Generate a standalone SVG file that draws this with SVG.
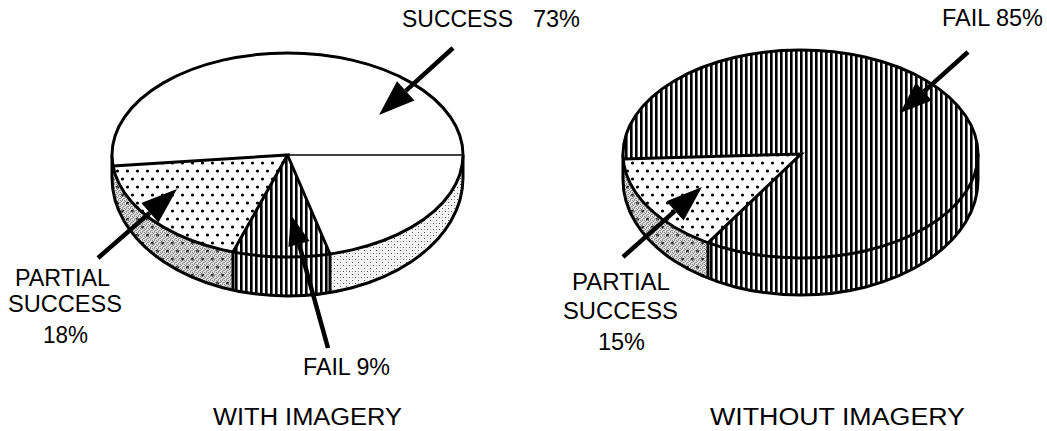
<svg xmlns="http://www.w3.org/2000/svg" width="1047" height="431" viewBox="0 0 1047 431">
<style>
  text { font-family: "Liberation Sans", Arial, sans-serif; font-size: 23px; fill: #000; }
  .edge { fill: none; stroke: #000; stroke-width: 3; }
  .thin { fill: none; stroke: #000; stroke-width: 1.6; }
  .arrow line { stroke: #000; stroke-width: 4.5; }
  .arrow polygon { fill: #000; }
</style>
<defs>
  <pattern id="dots" width="10" height="16" patternUnits="userSpaceOnUse">
    <rect width="10" height="16" fill="#fff"/>
    <circle cx="2.5" cy="3" r="1.6" fill="#000"/>
    <circle cx="7.5" cy="11" r="1.6" fill="#000"/>
  </pattern>
  <pattern id="vhatch" width="5" height="10" patternUnits="userSpaceOnUse">
    <rect width="5" height="10" fill="#fff"/>
    <rect x="0" y="0" width="2.6" height="10" fill="#000"/>
  </pattern>
  <pattern id="dense" width="4" height="4" patternUnits="userSpaceOnUse">
    <rect width="4" height="4" fill="#c4c4c4"/>
    <rect x="0" y="0" width="1" height="1" fill="#000"/>
    <rect x="2" y="0" width="1" height="1" fill="#333"/>
    <rect x="1" y="1" width="1" height="1" fill="#000"/>
    <rect x="3" y="2" width="1" height="1" fill="#000"/>
    <rect x="0" y="2" width="1" height="1" fill="#333"/>
    <rect x="2" y="3" width="1" height="1" fill="#000"/>
  </pattern>
  <pattern id="light" width="6" height="6" patternUnits="userSpaceOnUse">
    <rect width="6" height="6" fill="#f4f4f4"/>
    <rect x="1" y="1" width="1" height="1" fill="#555"/>
    <rect x="4" y="4" width="1" height="1" fill="#555"/>
    <rect x="4" y="1" width="1" height="1" fill="#aaa"/>
  </pattern>
  <clipPath id="cL1"><rect x="100" y="140" width="133" height="170"/></clipPath>
  <clipPath id="cL2"><rect x="233" y="140" width="97" height="170"/></clipPath>
  <clipPath id="cL3"><rect x="330" y="140" width="140" height="170"/></clipPath>
  <clipPath id="cR1"><rect x="610" y="140" width="98" height="170"/></clipPath>
  <clipPath id="cR2"><rect x="708" y="140" width="280" height="170"/></clipPath>
</defs>

<g id="pie-with-imagery">
  <g>
    <path clip-path="url(#cL1)" fill="url(#dense)" d="M112,155 A175.5 102 0 0 0 463,155 L463,178 A175.5 118 0 0 1 112,178 Z"/>
    <path clip-path="url(#cL1)" fill="url(#dots)" opacity="0.5" d="M112,155 A175.5 102 0 0 0 463,155 L463,178 A175.5 118 0 0 1 112,178 Z"/>
    <path clip-path="url(#cL2)" fill="url(#vhatch)" d="M112,155 A175.5 102 0 0 0 463,155 L463,178 A175.5 118 0 0 1 112,178 Z"/>
    <path clip-path="url(#cL3)" fill="url(#light)" d="M112,155 A175.5 102 0 0 0 463,155 L463,178 A175.5 118 0 0 1 112,178 Z"/>
  </g>
  <path class="edge" d="M112,155 L112,178 A175.5 118 0 0 0 463,178 L463,155"/>
  <line class="edge" x1="233" y1="252" x2="233" y2="290.2"/>
  <line class="edge" x1="330" y1="254" x2="330" y2="292.5"/>
  <ellipse cx="287.5" cy="155" rx="175.5" ry="102" fill="#fff"/>
  <path fill="url(#dots)" d="M287.5,155 L113,166 A175.5 102 0 0 0 233,252 Z"/>
  <path fill="url(#vhatch)" d="M287.5,155 L233,252 A175.5 102 0 0 0 330,254 Z"/>
  <path class="edge" d="M113,166 L287.5,155 L233,252 M287.5,155 L330,254"/>
  <line class="thin" x1="287.5" y1="155" x2="463" y2="155"/>
  <ellipse class="edge" cx="287.5" cy="155" rx="175.5" ry="102"/>
</g>

<g id="pie-without-imagery">
  <g>
    <path clip-path="url(#cR1)" fill="url(#dense)" d="M623,154 A177.5 104 0 0 0 978,154 L978,180 A177.5 115 0 0 1 623,180 Z"/>
    <path clip-path="url(#cR1)" fill="url(#dots)" opacity="0.5" d="M623,154 A177.5 104 0 0 0 978,154 L978,180 A177.5 115 0 0 1 623,180 Z"/>
    <path clip-path="url(#cR2)" fill="url(#vhatch)" d="M623,154 A177.5 104 0 0 0 978,154 L978,180 A177.5 115 0 0 1 623,180 Z"/>
  </g>
  <path class="edge" d="M623,154 L623,180 A177.5 115 0 0 0 978,180 L978,154"/>
  <line class="edge" x1="708" y1="242.8" x2="708" y2="278.2"/>
  <ellipse cx="800.5" cy="154" rx="177.5" ry="104" fill="url(#vhatch)"/>
  <path fill="url(#dots)" d="M801,154 L623.2,159 A177.5 104 0 0 0 708,242.8 Z"/>
  <path class="edge" d="M623.2,159 L801,154 L708,242.8"/>
  <ellipse class="edge" cx="800.5" cy="154" rx="177.5" ry="104"/>
</g>

<g id="connectors" class="arrow">
  <g id="arrow-success-73">
    <line x1="453" y1="48" x2="405.7" y2="90.8"/>
    <polygon points="379,115 414.4,100.4 397,81.2"/>
  </g>
  <g id="arrow-partial-18">
    <line x1="98" y1="258" x2="149.9" y2="212.7"/>
    <polygon points="177,189 158.5,222.5 141.3,202.9"/>
  </g>
  <g id="arrow-fail-9">
    <line x1="328" y1="348" x2="299" y2="244"/>
    <polygon points="291,215 309.6,241.1 288.4,246.9"/>
  </g>
  <g id="arrow-fail-85">
    <line x1="968" y1="52" x2="923.8" y2="91.7"/>
    <polygon points="900,113 931.8,100.6 915.8,82.8"/>
  </g>
  <g id="arrow-partial-15">
    <line x1="623" y1="257" x2="675" y2="210.9"/>
    <polygon points="702,187 683.6,220.6 666.4,201.2"/>
  </g>
</g>

<g id="label-success-73">
  <text y="27"><tspan x="402" textLength="111" lengthAdjust="spacingAndGlyphs">SUCCESS</tspan><tspan x="533" textLength="47" lengthAdjust="spacingAndGlyphs">73%</tspan></text>
</g>
<g id="label-partial-18">
  <text x="15" y="286" textLength="95" lengthAdjust="spacingAndGlyphs">PARTIAL</text>
  <text x="8" y="312" textLength="114" lengthAdjust="spacingAndGlyphs">SUCCESS</text>
  <text x="43" y="343" textLength="45" lengthAdjust="spacingAndGlyphs">18%</text>
</g>
<g id="label-fail-9">
  <text x="303" y="375" textLength="87" lengthAdjust="spacingAndGlyphs">FAIL 9%</text>
</g>
<g id="label-with-imagery">
  <text x="213" y="425" textLength="189" lengthAdjust="spacingAndGlyphs">WITH IMAGERY</text>
</g>
<g id="label-fail-85">
  <text x="942" y="26" textLength="101" lengthAdjust="spacingAndGlyphs">FAIL 85%</text>
</g>
<g id="label-partial-15">
  <text x="572" y="290" textLength="98" lengthAdjust="spacingAndGlyphs">PARTIAL</text>
  <text x="563" y="319" textLength="115" lengthAdjust="spacingAndGlyphs">SUCCESS</text>
  <text x="598" y="350" textLength="47" lengthAdjust="spacingAndGlyphs">15%</text>
</g>
<g id="label-without-imagery">
  <text x="710" y="425" textLength="255" lengthAdjust="spacingAndGlyphs">WITHOUT IMAGERY</text>
</g>
</svg>
